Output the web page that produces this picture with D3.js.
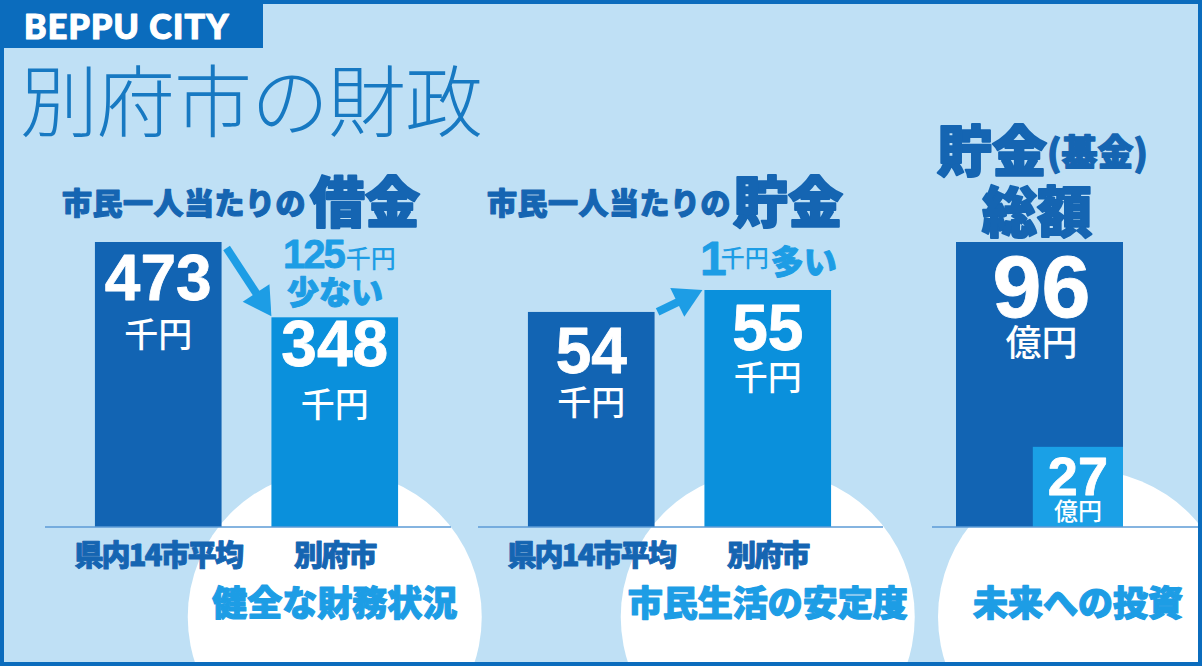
<!DOCTYPE html>
<html><head><meta charset="utf-8">
<script src="https://cdn.jsdelivr.net/npm/d3@7"></script>
<style>html,body{margin:0;padding:0;background:#bfe0f5;overflow:hidden}</style>
</head><body>
<svg id="c" width="1202" height="666"></svg>
<script>
// ---------- data ----------
const debtCategories = ["県内14市平均", "別府市"];
const debtValues = [473, 348];
const debtUnit = "千円";
const debtDiffValue = 125;
const debtDiffText = "少ない";

const savingsCategories = ["県内14市平均", "別府市"];
const savingsValues = [54, 55];
const savingsUnit = "千円";
const savingsDiffValue = 1;
const savingsDiffText = "多い";

const fundSeries = ["貯金（基金）総額", "未来への投資"];
const fundValues = [96, 27];
const fundUnit = "億円";

const circleLabels = ["健全な財務状況", "市民生活の安定度", "未来への投資"];

// ---------- layout ----------
const W = 1202, H = 666, baseY = 527;
const C = {frame:"#0b6cbd", bg:"#bfe0f5", bar1:"#1264b3", bar2:"#0a90dc", bar3:"#1aa0e6",
  text:"#1565b2", light:"#1d9de5", axis:"#5c9bd6", title:"#1779c2"};
const JP = "'Noto Sans CJK JP','Noto Sans CJK SC',sans-serif";
const NUM = "'Liberation Sans',Arial,sans-serif";

const svg = d3.select("#c");
svg.append("rect").attr("width", W).attr("height", H).attr("fill", C.bg);

// heavy text helper (thickens bold glyphs)
function heavy(sel, color, w) {
  return sel.attr("stroke", color).attr("stroke-width", w).attr("stroke-linejoin", "round").attr("paint-order", "stroke");
}

// scales
const xDebt = d3.scaleBand().domain(debtCategories).range([70, 423]).paddingInner(50/177).paddingOuter(25/177);
const yDebt = d3.scaleLinear().domain([0, 473]).range([baseY, 242]);
const xSav = d3.scaleBand().domain(savingsCategories).range([503, 856]).paddingInner(50/177).paddingOuter(25/177);
const ySav = d3.scaleLinear().domain([44.2, 55]).range([baseY, 290]);
const xFund = d3.scaleLinear().domain([0, 1]).range([956, 1123]);
const yFund = d3.scaleLinear().domain([0, 96]).range([baseY, 242]);

// white circles (behind bars)
const circles = [
  {cx: xDebt(debtCategories[1]) + xDebt.bandwidth()/2, cy: 617, r: 147},
  {cx: xSav(savingsCategories[1]) + xSav.bandwidth()/2, cy: 617, r: 147},
  {cx: 1085, cy: 617, r: 147}
];
svg.append("g").selectAll("circle").data(circles).join("circle")
  .attr("cx", d => d.cx).attr("cy", d => d.cy).attr("r", d => d.r).attr("fill", "#fff");

// bars
const barColors = [C.bar1, C.bar2];
svg.append("g").selectAll("rect").data(debtValues).join("rect")
  .attr("x", (d,i) => xDebt(debtCategories[i])).attr("width", xDebt.bandwidth())
  .attr("y", d => yDebt(d)).attr("height", d => baseY - yDebt(d)).attr("fill", (d,i) => barColors[i]);
svg.append("g").selectAll("rect").data(savingsValues).join("rect")
  .attr("x", (d,i) => xSav(savingsCategories[i])).attr("width", xSav.bandwidth())
  .attr("y", d => ySav(d)).attr("height", d => baseY - ySav(d)).attr("fill", (d,i) => barColors[i]);
const fundX0 = [0, 0.46];
svg.append("g").selectAll("rect").data(fundValues).join("rect")
  .attr("x", (d,i) => xFund(fundX0[i])).attr("width", (d,i) => xFund(1) - xFund(fundX0[i]))
  .attr("y", d => yFund(d)).attr("height", d => baseY - yFund(d)).attr("fill", (d,i) => i ? C.bar3 : C.bar1);

// axis lines
const axes = [[45, 451], [478, 883], [932, 1198]];
svg.append("g").selectAll("line").data(axes).join("line")
  .attr("x1", d => d[0]).attr("x2", d => d[1]).attr("y1", baseY).attr("y2", baseY)
  .attr("stroke", C.axis).attr("stroke-width", 1.6);

// value labels inside bars
function valueLabel(cx, top, value, unit, numSize, numOff, unitSize, unitOff) {
  heavy(svg.append("text").attr("x", cx).attr("y", top + numOff).attr("text-anchor", "middle")
    .attr("font-family", NUM).attr("font-weight", 700).attr("font-size", numSize).attr("fill", "#fff").text(value), "#fff", 0.8);
  svg.append("text").attr("x", cx).attr("y", top + unitOff).attr("text-anchor", "middle")
    .attr("font-family", JP).attr("font-weight", 500).attr("font-size", unitSize).attr("fill", "#fff").text(unit);
}
const bwD = xDebt.bandwidth(), bwS = xSav.bandwidth();
valueLabel(xDebt(debtCategories[0]) + bwD/2, yDebt(debtValues[0]), debtValues[0], debtUnit, 64, 58, 34, 105);
valueLabel(xDebt(debtCategories[1]) + bwD/2, yDebt(debtValues[1]), debtValues[1], debtUnit, 64, 49, 34, 100);
valueLabel(xSav(savingsCategories[0]) + bwS/2, ySav(savingsValues[0]), savingsValues[0], savingsUnit, 64, 61, 34, 103);
valueLabel(xSav(savingsCategories[1]) + bwS/2, ySav(savingsValues[1]), savingsValues[1], savingsUnit, 64, 60, 34, 100);
valueLabel((xFund(0) + xFund(1))/2 + 2, yFund(fundValues[0]), fundValues[0], fundUnit, 88, 75, 36, 114);
valueLabel((xFund(fundX0[1]) + xFund(1))/2, yFund(fundValues[1]), fundValues[1], fundUnit, 54, 48, 24, 73);

// category labels
function catLabels(x, cats) {
  heavy(svg.append("g").attr("font-family", JP).attr("font-weight", 900).attr("font-size", 29)
    .attr("fill", C.text).attr("letter-spacing", -1.8), C.text, 1)
    .selectAll("text").data(cats).join("text")
    .attr("x", d => x(d) + x.bandwidth()/2).attr("y", 566).attr("text-anchor", "middle").text(d => d);
}
catLabels(xDebt, debtCategories);
catLabels(xSav, savingsCategories);

// circle labels
const circleLabelX = [circles[0].cx, circles[1].cx, (xFund(fundX0[1]) + xFund(1))/2];
heavy(svg.append("g").attr("font-family", JP).attr("font-weight", 900).attr("font-size", 35).attr("fill", C.light), C.light, 1.2)
  .selectAll("text").data(circleLabels).join("text")
  .attr("x", (d,i) => circleLabelX[i]).attr("y", 616).attr("text-anchor", "middle").text(d => d);

// arrows
function arrow(x1, y1, x2, y2) {
  const dx = x2 - x1, dy = y2 - y1, len = Math.hypot(dx, dy), ux = dx/len, uy = dy/len;
  const L = 28, Hw = 16, bx = x2 - ux*L, by = y2 - uy*L;
  svg.append("line").attr("x1", x1).attr("y1", y1).attr("x2", bx + ux*4).attr("y2", by + uy*4)
    .attr("stroke", C.light).attr("stroke-width", 8);
  svg.append("path").attr("d", `M${x2},${y2}L${bx - uy*Hw},${by + ux*Hw}L${bx + uy*Hw},${by - ux*Hw}Z`)
    .attr("fill", C.light);
}
arrow(xDebt(debtCategories[0]) + bwD + 5, yDebt(debtValues[0]) + 6, xDebt(debtCategories[1]), yDebt(debtValues[1]) - 1);
arrow(xSav(savingsCategories[0]) + bwS + 3, ySav(savingsValues[0]), xSav(savingsCategories[1]) - 2, ySav(savingsValues[1]));

// difference annotations
const ann1 = svg.append("text").attr("x", 283).attr("y", 268).attr("fill", C.light);
heavy(ann1.append("tspan").attr("font-family", NUM).attr("font-weight", 700).attr("font-size", 40).attr("letter-spacing", -2).text(debtDiffValue), C.light, 0.8);
ann1.append("tspan").attr("font-family", JP).attr("font-weight", 500).attr("font-size", 25).attr("dx", 2).text(debtUnit);
heavy(svg.append("text").attr("x", 335).attr("y", 304).attr("text-anchor", "middle").attr("fill", C.light)
  .attr("font-family", JP).attr("font-weight", 900).attr("font-size", 32).text(debtDiffText), C.light, 1);

const ann2 = svg.append("text").attr("x", 700).attr("y", 275).attr("fill", C.light);
heavy(ann2.append("tspan").attr("font-family", NUM).attr("font-weight", 700).attr("font-size", 48).attr("letter-spacing", -6).text(savingsDiffValue), C.light, 0.8);
ann2.append("tspan").attr("font-family", JP).attr("font-weight", 500).attr("font-size", 24).attr("dy", -8).text(savingsUnit);
heavy(ann2.append("tspan").attr("font-family", JP).attr("font-weight", 900).attr("font-size", 33).attr("dy", 7).attr("dx", 2).text(savingsDiffText), C.light, 1);

// panel headings
const h1 = heavy(svg.append("text").attr("x", 62).attr("y", 214).attr("fill", C.text).attr("font-family", JP).attr("font-weight", 900), C.text, 1.2);
h1.append("tspan").attr("font-size", 30).attr("letter-spacing", 0.5).text("市民一人当たりの");
h1.append("tspan").attr("font-size", 55).attr("dx", 4).attr("dy", 8).attr("stroke-width", 2).text("借金");
const h2 = heavy(svg.append("text").attr("x", 487).attr("y", 214).attr("fill", C.text).attr("font-family", JP).attr("font-weight", 900), C.text, 1.2);
h2.append("tspan").attr("font-size", 30).attr("letter-spacing", 0.5).text("市民一人当たりの");
h2.append("tspan").attr("font-size", 55).attr("dx", 2).attr("dy", 8).attr("stroke-width", 2).text("貯金");
const h3 = heavy(svg.append("text").attr("x", 937).attr("y", 171).attr("fill", C.text).attr("font-family", JP).attr("font-weight", 900), C.text, 2);
h3.append("tspan").attr("font-size", 55).text("貯金");
h3.append("tspan").attr("font-size", 36).attr("dy", -5).attr("stroke-width", 1.3).text("(基金)");
heavy(svg.append("text").attr("x", 1037).attr("y", 232).attr("text-anchor", "middle").attr("fill", C.text)
  .attr("font-family", JP).attr("font-weight", 900).attr("font-size", 55).text("総額"), C.text, 2);

// title
svg.append("text").attr("x", 20).attr("y", 131).attr("fill", C.title).attr("font-family", JP)
  .attr("font-weight", 300).attr("font-size", 78).attr("letter-spacing", -1).text("別府市の財政");

// frame
svg.append("rect").attr("x", 2).attr("y", 2).attr("width", W - 4).attr("height", H - 4)
  .attr("fill", "none").attr("stroke", C.frame).attr("stroke-width", 4);
svg.append("rect").attr("x", 0).attr("y", 0).attr("width", 263).attr("height", 48).attr("fill", C.frame);
heavy(svg.append("text").attr("x", 24).attr("y", 39).attr("fill", "#fff").attr("font-family", "Lato, sans-serif")
  .attr("font-weight", 900).attr("font-size", 34).attr("letter-spacing", 1.2).text("BEPPU CITY"), "#fff", 1.2);
</script>
</body></html>
